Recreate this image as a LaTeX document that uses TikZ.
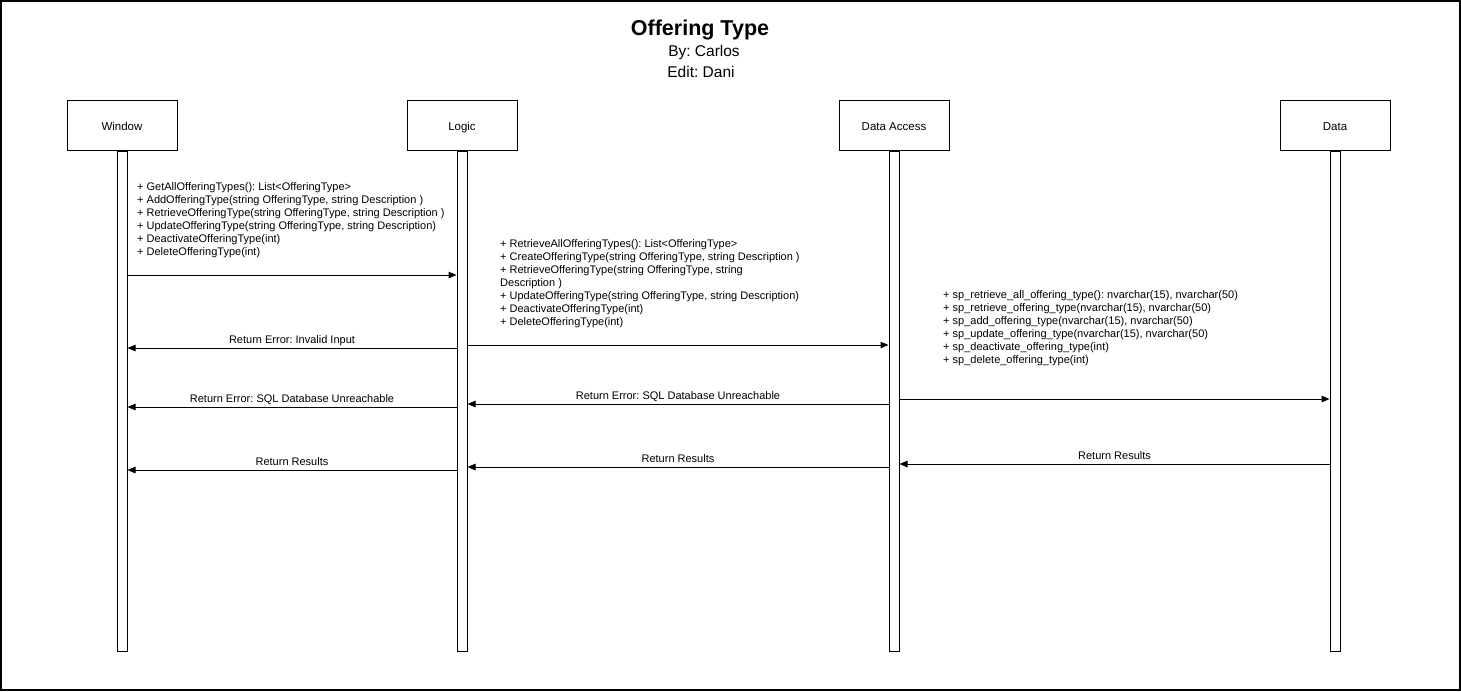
\documentclass[tikz,border=0pt]{standalone}
\usepackage{fontspec}
\setmainfont{Liberation Sans}
\usetikzlibrary{arrows.meta}
\frenchspacing
\begin{document}
\begin{tikzpicture}[x=1pt,y=-1pt,
  head/.style={draw, line width=1pt, minimum width=110pt, minimum height=50pt, inner sep=0, text height=10pt, text depth=0pt, font=\fontsize{11.5}{13}\selectfont},
  bar/.style={draw, line width=1pt, minimum width=10pt, minimum height=500pt, inner sep=0, anchor=north},
  msg/.style={line width=1pt, -{Triangle[length=8pt,width=6.5pt]}},
  lbl/.style={font=\fontsize{11}{13}\selectfont, inner sep=0, text depth=0pt},
  ops/.style={font=\fontsize{11}{13}\selectfont, align=left, inner sep=0, anchor=north west}]
\useasboundingbox (0,0) rectangle (1461,691);
\draw[line width=2pt] (1,1) rectangle (1460,690);

% title
\node[inner sep=0, font=\fontsize{21.5}{25}\bfseries] (title) at (700,30) {Offering Type};
\node[inner sep=0, font=\fontsize{15.5}{18}\selectfont] (by) at (704,52) {By: Carlos};
\node[inner sep=0, font=\fontsize{15.5}{18}\selectfont] (edit) at (701,72) {Edit: Dani};

% lifelines
\node[head] (window) at (122,125) {Window};
\node[head] (logic) at (462,125) {Logic};
\node[head] (da) at (894,125) {Data Access};
\node[head] (data) at (1335,125) {Data};
\node[bar] (wbar) at (window.south) {};
\node[bar] (lbar) at (logic.south) {};
\node[bar] (dbar) at (da.south) {};
\node[bar] (tbar) at (data.south) {};

% operation lists
\node[ops] (wops) at (137,182) {+ GetAllOfferingTypes(): List<OfferingType>\\
+ AddOfferingType(string OfferingType, string Description )\\
+ RetrieveOfferingType(string OfferingType, string Description )\\
+ UpdateOfferingType(string OfferingType, string Description)\\
+ DeactivateOfferingType(int)\\
+ DeleteOfferingType(int)};
\node[ops] (lops) at (500,239) {+ RetrieveAllOfferingTypes(): List<OfferingType>\\
+ CreateOfferingType(string OfferingType, string Description )\\
+ RetrieveOfferingType(string OfferingType, string\\
Description )\\
+ UpdateOfferingType(string OfferingType, string Description)\\
+ DeactivateOfferingType(int)\\
+ DeleteOfferingType(int)};
\node[ops] (dops) at (943,290) {+ sp\_retrieve\_all\_offering\_type(): nvarchar(15), nvarchar(50)\\
+ sp\_retrieve\_offering\_type(nvarchar(15), nvarchar(50)\\
+ sp\_add\_offering\_type(nvarchar(15), nvarchar(50)\\
+ sp\_update\_offering\_type(nvarchar(15), nvarchar(50)\\
+ sp\_deactivate\_offering\_type(int)\\
+ sp\_delete\_offering\_type(int)};

% messages
\draw[msg] (wbar.east |- 0,275) -- (lbar.west |- 0,275);
\draw[msg] (lbar.west |- 0,348) -- node[lbl, above=4pt] {Return Error: Invalid Input} (wbar.east |- 0,348);
\draw[msg] (lbar.east |- 0,345) -- (dbar.west |- 0,345);
\draw[msg] (dbar.west |- 0,404) -- node[lbl, above=4pt] {Return Error: SQL Database Unreachable} (lbar.east |- 0,404);
\draw[msg] (lbar.west |- 0,407) -- node[lbl, above=4pt] {Return Error: SQL Database Unreachable} (wbar.east |- 0,407);
\draw[msg] (dbar.east |- 0,399) -- (tbar.west |- 0,399);
\draw[msg] (tbar.west |- 0,464) -- node[lbl, above=4pt] {Return Results} (dbar.east |- 0,464);
\draw[msg] (dbar.west |- 0,467) -- node[lbl, above=4pt] {Return Results} (lbar.east |- 0,467);
\draw[msg] (lbar.west |- 0,470) -- node[lbl, above=4pt] {Return Results} (wbar.east |- 0,470);
\end{tikzpicture}
\end{document}
